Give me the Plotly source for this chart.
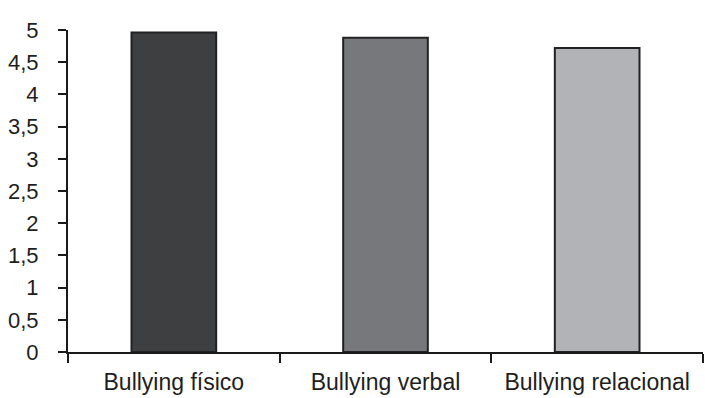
import plotly.graph_objects as go

categories = ["Bullying físico", "Bullying verbal", "Bullying relacional"]
values = [4.96, 4.88, 4.72]
bar_colors = ["#3e3f41", "#77787c", "#b2b3b6"]
y_ticks = [0, 0.5, 1, 1.5, 2, 2.5, 3, 3.5, 4, 4.5, 5]
y_tick_labels = ["0", "0,5", "1", "1,5", "2", "2,5", "3", "3,5", "4", "4,5", "5"]

fig = go.Figure(
    go.Bar(
        x=categories,
        y=values,
        marker=dict(color=bar_colors, line=dict(color="#222222", width=2)),
    )
)

fig.update_layout(
    width=705,
    height=398,
    margin=dict(l=68, r=2, t=30, b=46),
    paper_bgcolor="white",
    plot_bgcolor="white",
    bargap=0.6,
    showlegend=False,
    font=dict(family="Liberation Sans, Arial, sans-serif", size=22, color="#1e1e1e"),
)

fig.update_xaxes(
    automargin=False,
    showline=True,
    linecolor="#1a1a1a",
    linewidth=2,
    ticks="outside",
    tickson="boundaries",
    ticklen=9,
    tickwidth=2,
    tickcolor="#1a1a1a",
    showgrid=False,
    ticklabelstandoff=8,
    tickfont=dict(size=23),
)

fig.update_yaxes(
    automargin=False,
    range=[0, 5],
    tickvals=y_ticks,
    ticktext=y_tick_labels,
    showline=True,
    linecolor="#1a1a1a",
    linewidth=2,
    ticks="outside",
    ticklen=8,
    tickwidth=2,
    tickcolor="#1a1a1a",
    showgrid=False,
    zeroline=False,
    ticklabelstandoff=15,
    tickfont=dict(size=22),
)

fig.write_html("out.html")
